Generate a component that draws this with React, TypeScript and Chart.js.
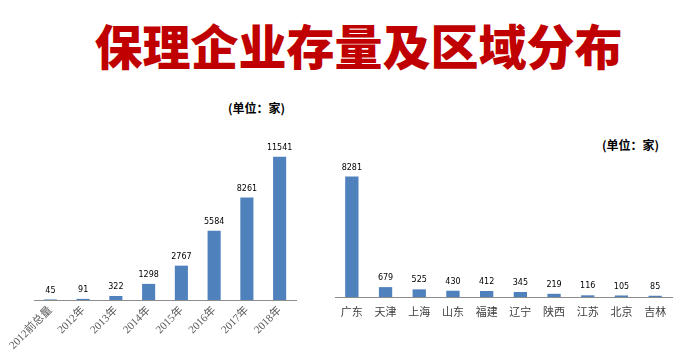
import React, { useEffect, useRef } from "react";
import { Chart, registerables } from "chart.js";

Chart.register(...registerables);

const yearCategories = ["2012前总量", "2012年", "2013年", "2014年", "2015年", "2016年", "2017年", "2018年"];
const yearValues = [45, 91, 322, 1298, 2767, 5584, 8261, 11541];

const regionCategories = ["广东", "天津", "上海", "山东", "福建", "辽宁", "陕西", "江苏", "北京", "吉林"];
const regionValues = [8281, 679, 525, 430, 412, 345, 219, 116, 105, 85];

const titleText = "保理企业存量及区域分布";
const unitText = "(单位：家)";

const BAR_COLOR = "#4F81BD";

const valueLabelPlugin = {
  id: "valueLabels",
  afterDatasetsDraw(chart: any) {
    const ctx = chart.ctx;
    ctx.save();
    ctx.font = '8px "DejaVu Sans", "Liberation Sans", sans-serif';
    ctx.fillStyle = "#000000";
    ctx.textAlign = "center";
    ctx.textBaseline = "bottom";
    chart.data.datasets.forEach((ds: any, di: number) => {
      const meta = chart.getDatasetMeta(di);
      meta.data.forEach((el: any, i: number) => {
        ctx.fillText(String(ds.data[i]), el.x, el.y - 5);
      });
    });
    ctx.restore();
  },
};

function BarChart(props: {
  labels: string[];
  values: number[];
  width: number;
  height: number;
  yMax: number;
  padding: { left: number; right: number; top: number; bottom: number };
  axisHeight: number;
  rotate: boolean;
  tickFont: any;
  tickColor: string;
  tickPadding: number;
  barPct: number;
}) {
  const ref = useRef<HTMLCanvasElement>(null);
  useEffect(() => {
    if (!ref.current) return;
    const chart = new Chart(ref.current, {
      type: "bar",
      data: {
        labels: props.labels,
        datasets: [
          {
            data: props.values,
            backgroundColor: BAR_COLOR,
            categoryPercentage: 1,
            barPercentage: props.barPct,
          },
        ],
      },
      options: {
        responsive: false,
        animation: false,
        devicePixelRatio: 1,
        layout: { padding: props.padding },
        plugins: { legend: { display: false }, tooltip: { enabled: false } },
        scales: {
          x: {
            grid: { display: false, drawTicks: false },
            border: { display: true, color: "#8C8C8C", width: 1 },
            ticks: {
              autoSkip: false,
              maxRotation: props.rotate ? 45 : 0,
              minRotation: props.rotate ? 45 : 0,
              font: props.tickFont,
              color: props.tickColor,
              padding: props.tickPadding,
            },
            afterFit: (axis: any) => {
              axis.height = props.axisHeight;
            },
          },
          y: {
            display: false,
            min: 0,
            max: props.yMax,
          },
        },
      },
      plugins: [valueLabelPlugin],
    } as any);
    return () => chart.destroy();
  }, []);
  return <canvas ref={ref} width={props.width} height={props.height} style={{ display: "block", width: props.width, height: props.height }} />;
}

export default function App() {
  return (
    <div
      style={{
        position: "absolute",
        left: 0,
        top: 0,
        width: 699,
        height: 360,
        background: "#ffffff",
        overflow: "hidden",
      }}
    >
      <div
        style={{
          position: "absolute",
          left: 0,
          width: 699,
          top: 14,
          textAlign: "center",
          paddingLeft: 18,
          boxSizing: "border-box",
          font: '900 48px "Noto Sans CJK SC", sans-serif',
          lineHeight: "60px",
          color: "#C00000",
          whiteSpace: "nowrap",
        }}
      >
        {titleText}
      </div>
      <div
        style={{
          position: "absolute",
          left: 228,
          top: 100,
          font: 'bold 12px "Noto Sans CJK SC", sans-serif',
          lineHeight: "16px",
          color: "#000",
          whiteSpace: "nowrap",
        }}
      >
        {unitText}
      </div>
      <div
        style={{
          position: "absolute",
          left: 602,
          top: 137,
          font: 'bold 12px "Noto Sans CJK SC", sans-serif',
          lineHeight: "16px",
          color: "#000",
          whiteSpace: "nowrap",
        }}
      >
        {unitText}
      </div>
      <div style={{ position: "absolute", left: 0, top: 100 }}>
        <BarChart
          labels={yearCategories}
          values={yearValues}
          width={320}
          height={260}
          yMax={12000}
          padding={{ left: 34, right: 24, top: 51, bottom: 0 }}
          axisHeight={60}
          rotate={true}
          tickFont={{ family: '"Liberation Serif", "Noto Sans CJK SC", serif', size: 11 }}
          tickColor="#595959"
          tickPadding={4}
          barPct={0.4}
        />
      </div>
      <div style={{ position: "absolute", left: 320, top: 120 }}>
        <BarChart
          labels={regionCategories}
          values={regionValues}
          width={379}
          height={240}
          yMax={9000}
          padding={{ left: 15, right: 27, top: 46, bottom: 0 }}
          axisHeight={63}
          rotate={false}
          tickFont={{ family: '"Noto Sans CJK SC", sans-serif', size: 11 }}
          tickColor="#404040"
          tickPadding={8}
          barPct={0.395}
        />
      </div>
    </div>
  );
}
